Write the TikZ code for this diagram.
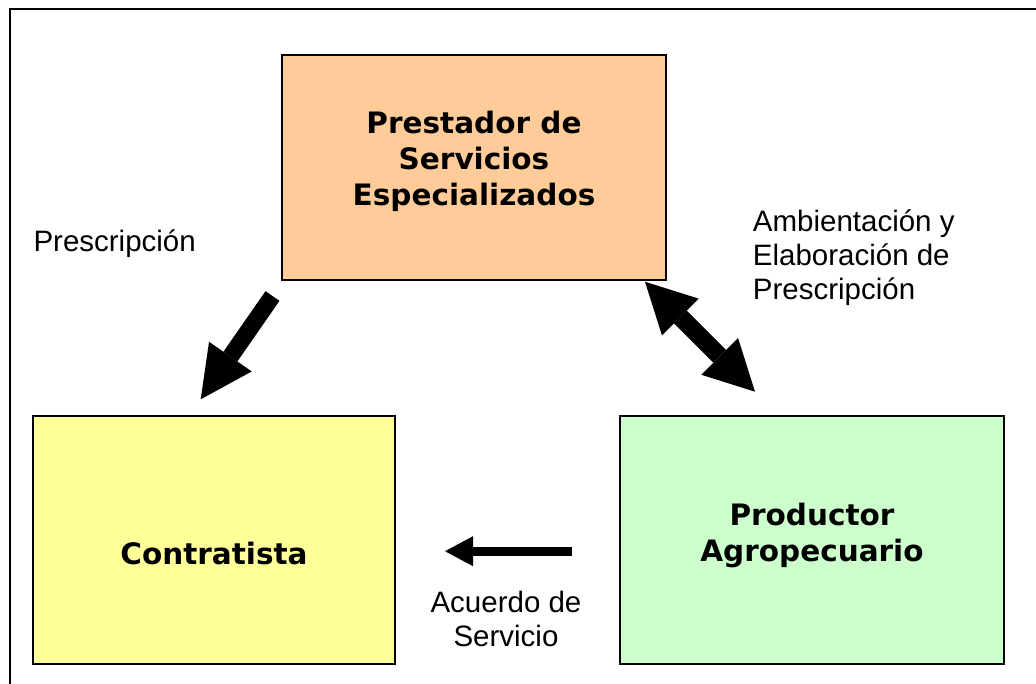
\documentclass[tikz,border=0pt]{standalone}
\usepackage{fontspec}
\setmainfont{Liberation Sans}
\newfontfamily\boxfont{DejaVu Sans}
\usetikzlibrary{arrows.meta,positioning}

\definecolor{peach}{HTML}{FFCC99}
\definecolor{paleyellow}{HTML}{FFFF99}
\definecolor{palegreen}{HTML}{CCFFCC}

\tikzset{
  actorbox/.style={draw=black, line width=1.6pt, inner sep=0pt},
  actorname/.style={font=\boxfont\bfseries\fontsize{29.5}{36}\selectfont, align=center, inner sep=0pt},
  flowlabel/.style={font=\fontsize{29.5}{34}\selectfont, inner sep=0pt},
  bigarrow/.style={line width=17pt, -{Triangle[width=52pt,length=52pt,line width=0pt]}},
  twoarrow/.style={line width=18pt, {Triangle[width=52pt,length=50pt,line width=0pt]}-{Triangle[width=52pt,length=50pt,line width=0pt]}},
  smallarrow/.style={line width=9pt, -{Triangle[width=30pt,length=28pt,line width=0pt]}}
}

\begin{document}
\begin{tikzpicture}[x=1pt,y=-1pt]
  \useasboundingbox (0,0) rectangle (1036,683);
  \draw[line width=2pt] (10,690) -- (10,9) -- (1040,9);

  \node[actorbox, fill=peach, minimum width=384pt, minimum height=225pt] (pse) at (474,167.5) {};
  \node[actorbox, fill=paleyellow, minimum width=362pt, minimum height=248pt] (contr) at (214,540) {};
  \node[actorbox, fill=palegreen, minimum width=384pt, minimum height=248pt] (prod) at (812,540) {};

  \node[actorname, anchor=base] (pse name) at (474,205.3) {Prestador de\\Servicios\\Especializados};
  \node[actorname, anchor=base] (contr name) at (214,564) {Contratista};
  \node[actorname, anchor=base] (prod name) at (812,561.7) {Productor\\Agropecuario};

  \node[flowlabel, anchor=base west] (presc) at (33.3,251.7) {Prescripción};
  \node[flowlabel, anchor=base west, align=left] (ambient) at (752.7,299.7) {Ambientación y\\Elaboración de\\Prescripción};
  \node[flowlabel, anchor=base, align=center] (acuerdo) at (506,646) {Acuerdo de\\Servicio};

  \coordinate (presc tail) at (272.5,296);
  \coordinate (presc tip) at (200.7,399.3);
  \coordinate (amb top) at (645,281.7);
  \coordinate (amb bottom) at (755,391.7);
  \coordinate (acu tail) at (571.7,551.2);
  \coordinate (acu tip) at (445,551.2);

  \draw[bigarrow] (presc tail) -- (presc tip);
  \draw[twoarrow] (amb top) -- (amb bottom);
  \draw[smallarrow] (acu tail) -- (acu tip);
\end{tikzpicture}
\end{document}
